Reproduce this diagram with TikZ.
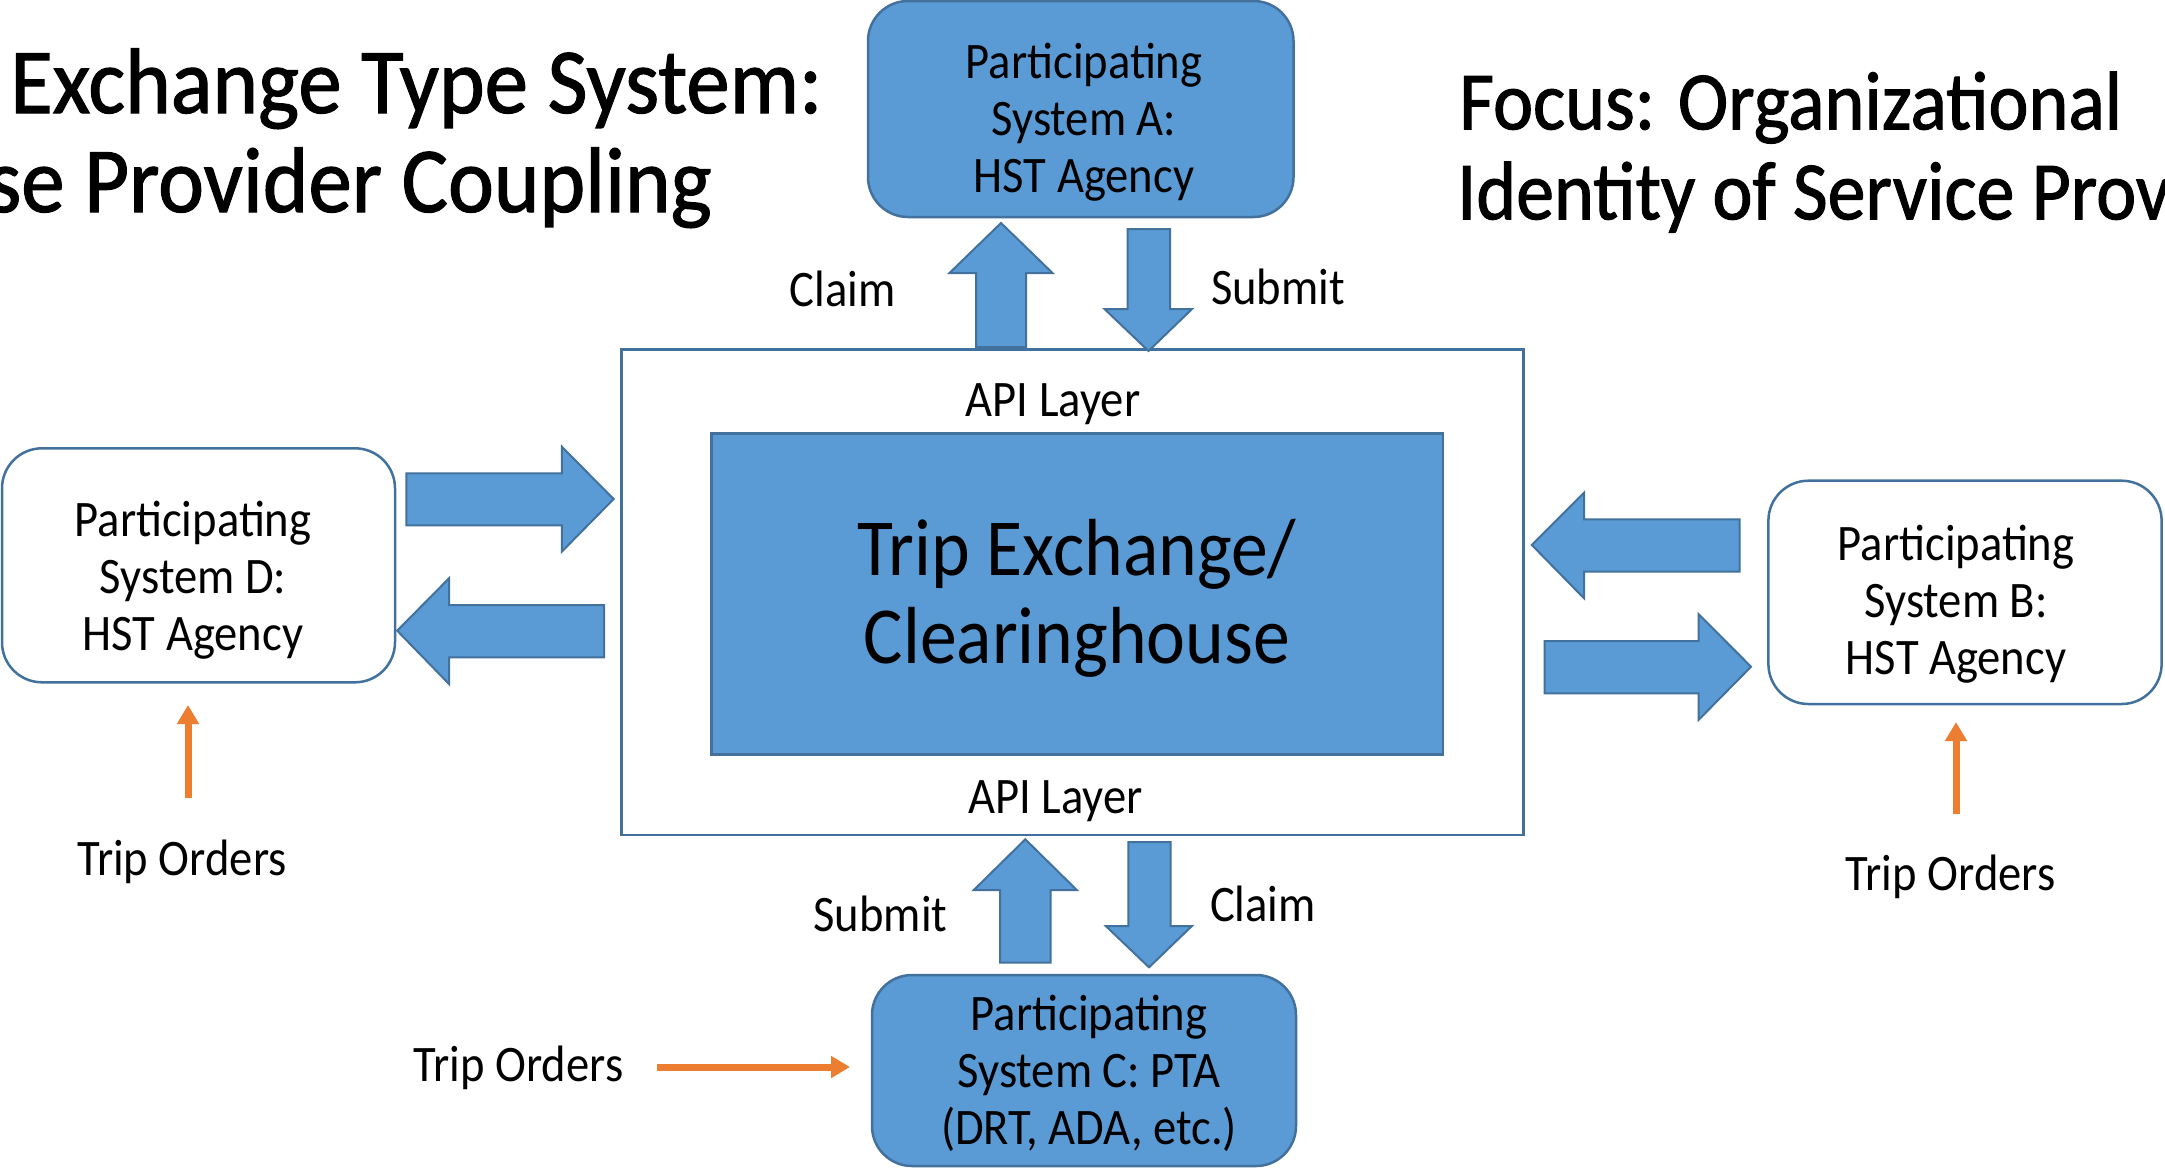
\documentclass[tikz,border=0pt]{standalone}
\usepackage{fontspec}
\setmainfont{Carlito}[FakeStretch=0.91]
\newfontfamily\headfont{Carlito}[FakeStretch=0.935, FakeBold=1.2]
\newfontfamily\focusfont{Carlito}[FakeStretch=0.915, FakeBold=1.2]
\usetikzlibrary{arrows.meta}
\definecolor{boxblue}{HTML}{5B9BD5}
\definecolor{edgeblue}{HTML}{41719C}
\definecolor{orderorange}{HTML}{ED7D31}
% centred lines whose base is the first line's baseline
\newcommand{\linestack}[1]{\begin{tabular}[t]{@{}c@{}}#1\end{tabular}}

\begin{document}
\begin{tikzpicture}[x=1pt,y=-1pt,
  sysfilled/.style={draw=edgeblue, fill=boxblue, line width=2.5pt, rounded corners=40pt},
  sysplain/.style={draw=edgeblue, fill=white, line width=2.5pt, rounded corners=40pt},
  hubframe/.style={draw=edgeblue, fill=white, line width=2.5pt},
  hubcore/.style={draw=edgeblue, fill=boxblue, line width=2.5pt},
  blockarrow/.style={draw=edgeblue, fill=boxblue, line width=2pt, line join=miter},
  ordarrow/.style={draw=orderorange, line width=7pt,
    -{Triangle[length=19pt,width=21pt]}},
  txt/.style={inner sep=0pt, anchor=base, font=\fontsize{51.2}{57}\selectfont},
  hubtxt/.style={inner sep=0pt, anchor=base, font=\fontsize{81}{88}\selectfont},
  titletxt/.style={inner sep=0pt, font=\headfont\fontsize{93}{100}\selectfont},
  focustxt/.style={inner sep=0pt, anchor=base west, font=\focusfont\fontsize{83}{90}\selectfont},
]
\useasboundingbox[fill=white] (0,0) rectangle (2165,1168);

% headings
\node[titletxt, anchor=base west] (title1) at (10,113) {Exchange Type System:};
\node[titletxt, anchor=base east] (title2) at (712,212) {se Provider Coupling};
\node[focustxt] (focus1) at (1459,129.3) {Focus: Organizational};
\node[focustxt] (focus2) at (1457,219.3) {Identity of Service Prov};

% central exchange with its API layer
\node[hubframe, minimum width=901.9pt, minimum height=485.7pt] (hub) at (1072.35,592.15) {};
\node[hubcore, minimum width=731.6pt, minimum height=321pt] (core) at (1077.2,593.8) {};
\node[hubtxt] (coretext) at (1077,575) {\linestack{Trip Exchange/\\Clearinghouse}};
\node[txt] (apitop) at (1053,416) {API Layer};
\node[txt] (apibot) at (1055.5,813.3) {API Layer};

% participating systems
\node[sysfilled, minimum width=425.5pt, minimum height=216pt] (sysA) at (1080.75,109) {};
\node[txt] (sysAtext) at (1084,78.3) {\linestack{Participating\\System A:\\HST Agency}};

\node[sysplain, minimum width=393pt, minimum height=234pt] (sysD) at (198.5,565.3) {};
\node[txt] (sysDtext) at (193,536.7) {\linestack{Participating\\System D:\\HST Agency}};

\node[sysplain, minimum width=393.2pt, minimum height=223.3pt] (sysB) at (1965,592.35) {};
\node[txt] (sysBtext) at (1956,560) {\linestack{Participating\\System B:\\HST Agency}};

\node[sysfilled, minimum width=424pt, minimum height=191pt] (sysC) at (1084,1070.5) {};
\node[txt] (sysCtext) at (1089,1030) {\linestack{Participating\\System C: PTA\\(DRT, ADA, etc.)}};

% block arrows between System A and the exchange
\draw[blockarrow] (976,347) -- (976,273) -- (949.5,273) -- (1001,223)
  -- (1052.5,273) -- (1026,273) -- (1026,347) -- cycle;
\draw[blockarrow] (1127.5,229) -- (1170,229) -- (1170,309) -- (1192,309)
  -- (1148.5,351) -- (1104.5,309) -- (1127.5,309) -- cycle;
\node[txt] (claimA) at (842.5,306.7) {Claim};
\node[txt] (submitA) at (1278,304.3) {Submit};

% block arrows between System C and the exchange
\draw[blockarrow] (1000,962.7) -- (1000,890) -- (973.8,890) -- (1025.3,839.3)
  -- (1076.8,890) -- (1050.7,890) -- (1050.7,962.7) -- cycle;
\draw[blockarrow] (1128.3,842) -- (1170.7,842) -- (1170.7,926) -- (1191.9,926)
  -- (1149,967.3) -- (1105.8,926) -- (1128.3,926) -- cycle;
\node[txt] (submitC) at (880.5,931) {Submit};
\node[txt] (claimC) at (1263,921.7) {Claim};

% block arrows between System D and the exchange
\draw[blockarrow] (406.3,473.3) -- (561.8,473.3) -- (561.8,446.7) -- (613.6,499)
  -- (561.8,551.7) -- (561.8,525.3) -- (406.3,525.3) -- cycle;
\draw[blockarrow] (604,605) -- (449,605) -- (449,578.3) -- (397.2,630.7)
  -- (449,684) -- (449,657.3) -- (604,657.3) -- cycle;

% block arrows between System B and the exchange
\draw[blockarrow] (1739.6,519.3) -- (1584,519.3) -- (1584,492.7) -- (1531.8,545)
  -- (1584,598.3) -- (1584,571.7) -- (1739.6,571.7) -- cycle;
\draw[blockarrow] (1544.5,641) -- (1698.5,641) -- (1698.5,614) -- (1751,666.7)
  -- (1698.5,720) -- (1698.5,693.3) -- (1544.5,693.3) -- cycle;

% incoming trip orders
\node[txt] (ordersD) at (182,875) {Trip Orders};
\node[txt] (ordersB) at (1950.6,890) {Trip Orders};
\node[txt] (ordersC) at (518.5,1081.7) {Trip Orders};
\coordinate (ordDfrom) at (188,798);
\coordinate (ordDto) at (188,705);
\coordinate (ordBfrom) at (1956,814);
\coordinate (ordBto) at (1956,722);
\coordinate (ordCfrom) at (657,1067);
\coordinate (ordCto) at (850,1067);
\draw[ordarrow] (ordDfrom) -- (ordDto);
\draw[ordarrow] (ordBfrom) -- (ordBto);
\draw[ordarrow] (ordCfrom) -- (ordCto);
\end{tikzpicture}
\end{document}
